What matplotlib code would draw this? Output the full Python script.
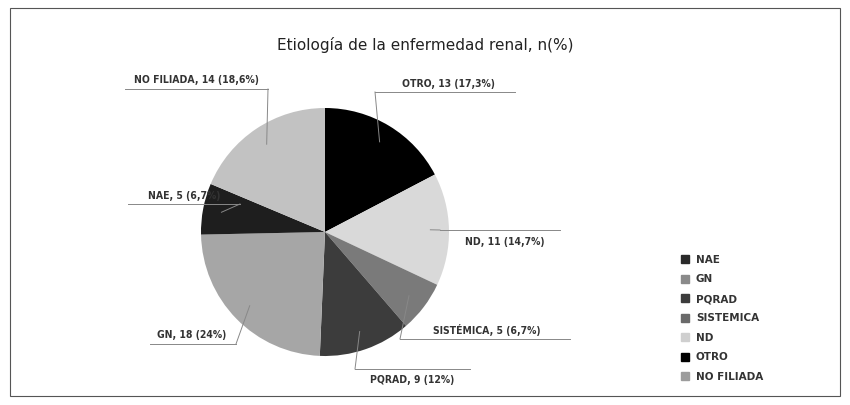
import numpy as np
import matplotlib.pyplot as plt
from matplotlib.patches import Rectangle

# pie order (clockwise from 12 o'clock)
labels = ["OTRO", "ND", "SISTÉMICA", "PQRAD", "GN", "NAE", "NO FILIADA"]
counts = [13, 11, 5, 9, 18, 5, 14]
pcts = ["17,3%", "14,7%", "6,7%", "12%", "24%", "6,7%", "18,6%"]
colors = ["#000000", "#d9d9d9", "#7a7a7a", "#3c3c3c", "#a6a6a6", "#1e1e1e", "#c2c2c2"]

legend_order = ["NAE", "GN", "PQRAD", "SISTEMICA", "ND", "OTRO", "NO FILIADA"]
legend_colors = ["#2a2a2a", "#8a8a8a", "#3c3c3c", "#6a6a6a", "#cfcfcf", "#000000", "#9c9c9c"]

# label placement in pixels: (text x, text y, underline x0, x1, y, connector end x)
CX, CY, R = 325, 233, 124
place = {
    "OTRO":       (448, 84, 375, 515, 93, 375),
    "ND":         (505, 242, 440, 560, 231, 440),
    "SISTÉMICA":  (487, 330, 400, 570, 340, 400),
    "PQRAD":      (412, 380, 355, 470, 370, 355),
    "GN":         (192, 335, 150, 236, 345, 236),
    "NAE":        (184, 196, 128, 240, 205, 240),
    "NO FILIADA": (196, 80, 125, 268, 90, 268),
}

W, H = 850, 406
fig = plt.figure(figsize=(W / 100, H / 100), dpi=100)
fig.patches.append(Rectangle((10 / W, 9 / H), 830 / W, 388 / H, transform=fig.transFigure,
                             fill=False, ec="#555555", lw=0.8))
fig.text(0.5, 1 - 45 / H, "Etiología de la enfermedad renal, n(%)", ha="center", va="center",
         fontsize=11, color="#222222")

ax = fig.add_axes([(CX - R) / W, (H - CY - R) / H, 2 * R / W, 2 * R / H])
wedges, _ = ax.pie(counts, colors=colors, startangle=90, counterclock=False, radius=1.0)
ax.set_xlim(-1, 1)
ax.set_ylim(-1, 1)
ax.axis("off")

def px(x, y):
    return (x - CX) / R, (CY - y) / R

for w, lab, n, p in zip(wedges, labels, counts, pcts):
    tx, ty, x0, x1, yu, xc = place[lab]
    a = np.deg2rad((w.theta1 + w.theta2) / 2)
    ex, ey = 0.85 * np.cos(a), 0.85 * np.sin(a)
    ux0, uy = px(x0, yu)
    ux1, _ = px(x1, yu)
    cx_, _ = px(xc, yu)
    ax.plot([ux0, ux1], [uy, uy], color="#888888", lw=0.7, clip_on=False)
    ax.plot([ex, cx_], [ey, uy], color="#888888", lw=0.7, clip_on=False)
    t = px(tx, ty)
    ax.text(t[0], t[1], f"{lab}, {n} ({p})", ha="center", va="center", fontsize=7.5,
            color="#333333", fontweight="bold", clip_on=False, fontstretch="condensed")

# legend
for i, (lab, c) in enumerate(zip(legend_order, legend_colors)):
    y = 260 + i * 19.5
    fig.patches.append(Rectangle((681 / W, (H - y - 4) / H), 8 / W, 8 / H,
                                 transform=fig.transFigure, color=c))
    fig.text(696 / W, 1 - y / H, lab, va="center", fontsize=7.5, color="#333333",
             fontweight="bold")

fig.savefig("out.png", dpi=100, facecolor="white")
